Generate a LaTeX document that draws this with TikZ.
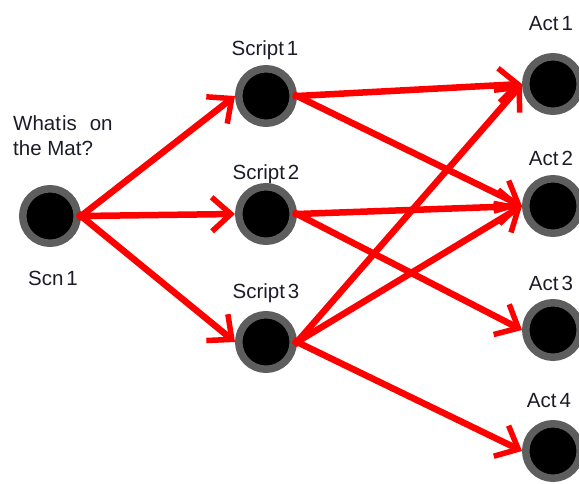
\documentclass[tikz,border=0pt]{standalone}
\usepackage{fontspec}
\setmainfont{Liberation Sans}
\usetikzlibrary{arrows.meta,shadows}
\definecolor{ringgray}{HTML}{5E5E5E}
\definecolor{labelink}{HTML}{1C1C28}
\begin{document}
\begin{tikzpicture}[x=1pt,y=-1pt,
  state/.style={circle, fill=black, draw=ringgray, line width=7.5pt,
    minimum size=54.5pt, inner sep=0pt,
    drop shadow={shadow xshift=0.5pt, shadow yshift=-2.5pt, opacity=0.3, fill=black}},
  lbl/.style={anchor=base, font=\fontsize{20.5}{25}\selectfont, text=labelink, inner sep=0pt},
  flow/.style={draw=red, line width=6.5pt, shorten <=-4pt,
    -{Straight Barb[length=19pt, width=34pt, line width=5.5pt]}}
]
\useasboundingbox (0,0) rectangle (579,483);

% states
\node[state] (scn) at (50,216) {};
\node[state] (s1) at (266,96) {};
\node[state] (s2) at (266,214) {};
\node[state] (s3) at (266,342) {};
\node[state] (a1) at (553,84) {};
\node[state] (a2) at (553,206) {};
\node[state] (a3) at (553,330) {};
\node[state] (a4) at (553,451) {};

% labels
\node[lbl, anchor=base west, align=left] (q) at (13,155)
  {What\kern 1pt is\kern 13pt on\\the Mat?};
\node[lbl] (lscn) at (53,285) {Scn\kern 3pt 1};
\node[lbl] (ls1) at (265,55) {Script\kern 3pt 1};
\node[lbl] (ls2) at (266,179) {Script\kern 3pt 2};
\node[lbl] (ls3) at (266,298) {Script\kern 3pt 3};
\node[lbl] (la1) at (551,30) {Act\kern 3pt 1};
\node[lbl] (la2) at (551,165) {Act\kern 3pt 2};
\node[lbl] (la3) at (551,290) {Act\kern 3pt 3};
\node[lbl] (la4) at (549,407) {Act\kern 3pt 4};

% flows
\draw[flow] (scn.east) -- (s1.west);
\draw[flow] (scn.east) -- (s2.west);
\draw[flow] (scn.east) -- (s3.west);
\draw[flow] (s1.east) -- (a1.west);
\draw[flow] (s1.east) -- (a2.west);
\draw[flow] (s2.east) -- (a2.west);
\draw[flow] (s2.east) -- (a3.west);
\draw[flow] (s3.east) -- (a1.west);
\draw[flow] (s3.east) -- (a2.west);
\draw[flow] (s3.east) -- (a4.west);
\end{tikzpicture}
\end{document}
